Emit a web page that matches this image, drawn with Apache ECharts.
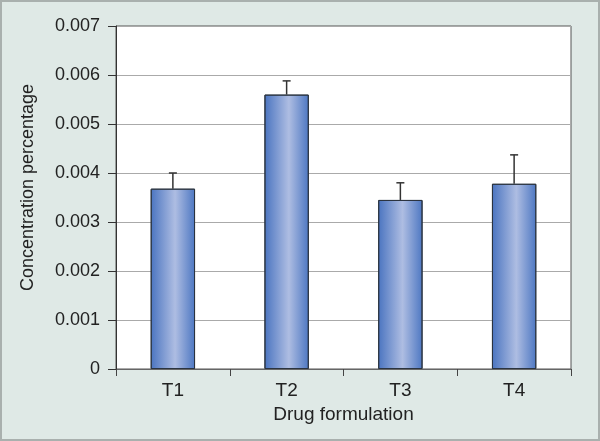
<!DOCTYPE html>
<html>
<head>
<meta charset="utf-8">
<script src="https://cdn.jsdelivr.net/npm/echarts@6/dist/echarts.min.js"></script>
<style>
    html, body { margin: 0; padding: 0; }
    #main { width: 600px; height: 441px; box-sizing: border-box; border: 2px solid #a9b0ae; background: #dfe9e6; }
</style>
</head>
<body>
<div id="main"></div>
<script>
// 数据
const categories = ['T1', 'T2', 'T3', 'T4'];
const means = [0.00368, 0.0056, 0.00345, 0.00378];
const upper = [0.0040, 0.00588, 0.0038, 0.00437]; // 误差上限
const yTicks = ['0', '0.001', '0.002', '0.003', '0.004', '0.005', '0.006', '0.007'];

let myChart = echarts.init(document.getElementById('main'));

const fontFamily = '"Liberation Sans", Arial, sans-serif';

let option = {
    grid: {
        left: 114,
        right: 27,
        top: 24,
        bottom: 70,
        show: true,
        backgroundColor: '#fff',
        borderColor: '#555',
        borderWidth: 1
    },
    xAxis: {
        type: 'category',
        data: categories,
        name: 'Drug formulation',
        nameLocation: 'middle',
        nameGap: 34,
        nameTextStyle: { fontSize: 19, color: '#222', fontFamily: fontFamily },
        axisLine: { lineStyle: { color: '#666', width: 1 } },
        axisTick: { show: true, length: 7, alignWithLabel: false, lineStyle: { color: '#444' } },
        axisLabel: { fontSize: 19, color: '#222', margin: 12, fontFamily: fontFamily }
    },
    yAxis: {
        type: 'value',
        min: 0,
        max: 0.007,
        interval: 0.001,
        name: 'Concentration percentage',
        nameLocation: 'middle',
        nameGap: 79,
        nameTextStyle: { fontSize: 18, color: '#222', fontFamily: fontFamily, padding: [0, 0, 0, 20] },
        axisLine: { show: true, lineStyle: { color: '#333', width: 1 } },
        axisTick: { show: true, length: 8, lineStyle: { color: '#333' } },
        axisLabel: {
            fontSize: 18, color: '#222', margin: 16, fontFamily: fontFamily,
            formatter: (v) => yTicks[Math.round(v * 1000)]
        },
        splitLine: { lineStyle: { color: '#aaa', width: 1 } }
    },
    series: [
        {
            type: 'bar',
            data: means,
            barWidth: '39%',
            itemStyle: {
                color: new echarts.graphic.LinearGradient(0, 0, 1, 0, [
                    { offset: 0, color: '#4a74c0' },
                    { offset: 0.55, color: '#aebde2' },
                    { offset: 1, color: '#4d77c2' }
                ]),
                borderColor: '#2b3440',
                borderWidth: 1
            },
            z: 2
        },
        {
            // 误差线
            type: 'custom',
            data: categories.map((c, i) => [i, means[i], upper[i]]),
            renderItem: function (params, api) {
                const low = api.coord([api.value(0), api.value(1)]);
                const high = api.coord([api.value(0), api.value(2)]);
                const half = 4;
                const style = { stroke: '#333', lineWidth: 1.5 };
                return {
                    type: 'group',
                    children: [
                        { type: 'line', shape: { x1: low[0], y1: low[1], x2: high[0], y2: high[1] }, style: style },
                        { type: 'line', shape: { x1: high[0] - half, y1: high[1], x2: high[0] + half, y2: high[1] }, style: style }
                    ]
                };
            },
            z: 3
        }
    ]
};
myChart.setOption(option);
</script>
</body>
</html>
